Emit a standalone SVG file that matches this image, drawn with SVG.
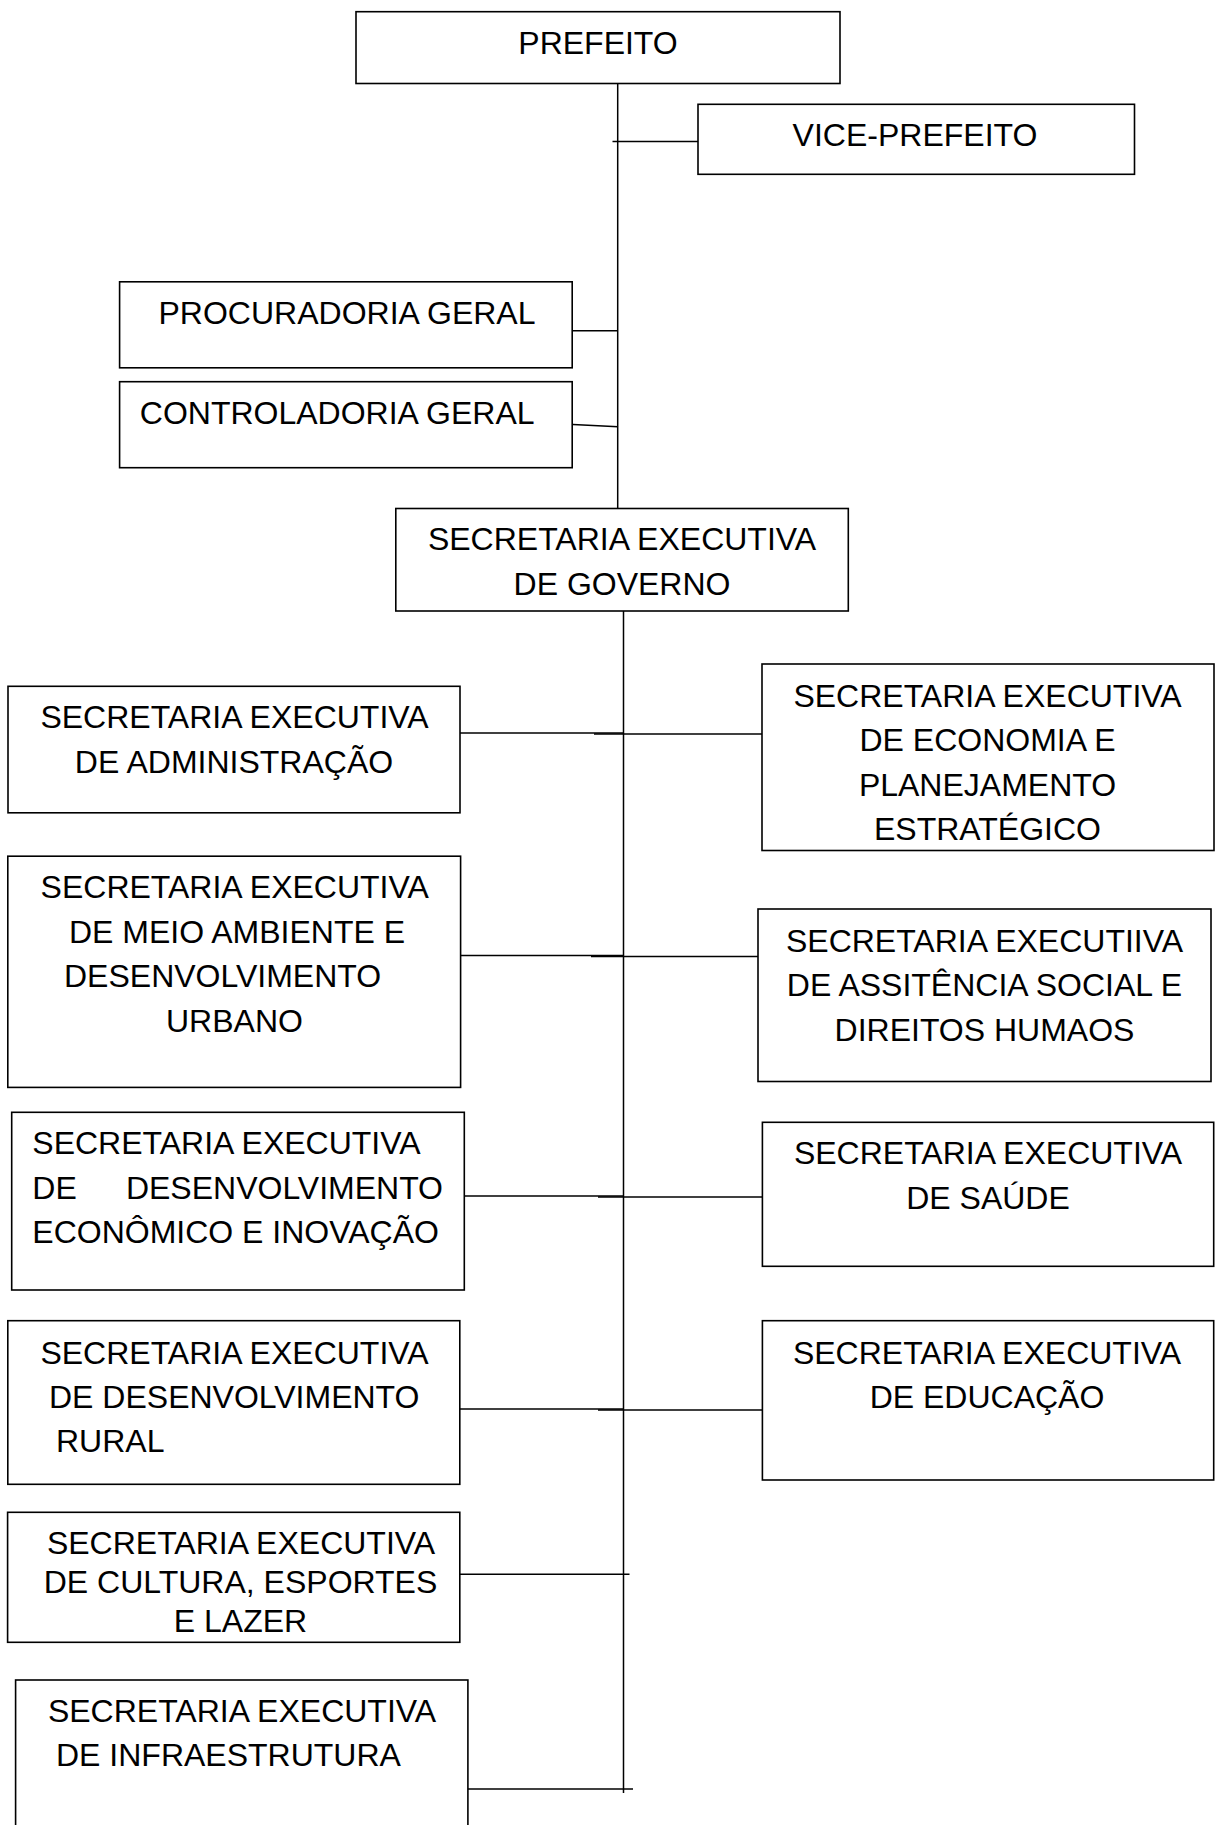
<svg xmlns="http://www.w3.org/2000/svg" width="1217" height="1825" viewBox="0 0 1217 1825">
<style>
.box{fill:#fff;stroke:#000;stroke-width:1.6}
.t{font-family:"Liberation Sans",Arial,sans-serif;font-size:32px;fill:#000}
.m{text-anchor:middle}
.ln{stroke:#000;stroke-width:1.5;fill:none}
</style>
<rect width="1217" height="1825" fill="#fff"/>
<g id="connectors">
<line class="ln" x1="617.7" y1="80" x2="617.7" y2="510"/>
<line class="ln" x1="612.5" y1="141.5" x2="698" y2="141.5"/>
<line class="ln" x1="568" y1="330.7" x2="618" y2="330.7"/>
<line class="ln" x1="568" y1="424.3" x2="618" y2="426.7"/>
<line class="ln" x1="623.5" y1="610" x2="623.5" y2="1793"/>
<line class="ln" x1="455" y1="733" x2="623.5" y2="733"/>
<line class="ln" x1="594" y1="734" x2="762" y2="734"/>
<line class="ln" x1="457" y1="955.5" x2="623.5" y2="955.5"/>
<line class="ln" x1="591" y1="956.5" x2="759" y2="956.5"/>
<line class="ln" x1="461" y1="1196" x2="623.5" y2="1196"/>
<line class="ln" x1="598" y1="1197" x2="764.5" y2="1197"/>
<line class="ln" x1="460" y1="1409" x2="623.5" y2="1409"/>
<line class="ln" x1="598" y1="1410" x2="764.5" y2="1410"/>
<line class="ln" x1="460" y1="1574.3" x2="629.5" y2="1574.3"/>
<line class="ln" x1="464.3" y1="1789" x2="633" y2="1789"/>
</g>
<g id="prefeito">
<rect class="box" x="356" y="11.7" width="484" height="71.8"/>
<text class="t m" x="598" y="54">PREFEITO</text>
</g>
<g id="vice-prefeito">
<rect class="box" x="698" y="104.3" width="436.5" height="70"/>
<text class="t m" x="915" y="146">VICE-PREFEITO</text>
</g>
<g id="procuradoria">
<rect class="box" x="119.6" y="281.8" width="452.6" height="86"/>
<text class="t" x="158.5" y="324">PROCURADORIA GERAL</text>
</g>
<g id="controladoria">
<rect class="box" x="119.6" y="381.7" width="452.6" height="86"/>
<text class="t" x="139.8" y="423.5">CONTROLADORIA GERAL</text>
</g>
<g id="governo">
<rect class="box" x="395.8" y="508.5" width="452.5" height="102.5"/>
<text class="t m" x="622" y="550">SECRETARIA EXECUTIVA</text>
<text class="t m" x="622" y="594.5">DE GOVERNO</text>
</g>
<g id="administracao">
<rect class="box" x="8" y="686.3" width="452" height="126.5"/>
<text class="t m" x="234.5" y="728">SECRETARIA EXECUTIVA</text>
<text class="t m" x="234" y="772.5">DE ADMINISTRAÇÃO</text>
</g>
<g id="economia">
<rect class="box" x="762" y="664" width="452" height="186.5"/>
<text class="t m" x="987.5" y="706.5">SECRETARIA EXECUTIVA</text>
<text class="t m" x="987.5" y="751">DE ECONOMIA E</text>
<text class="t m" x="987.5" y="795.5">PLANEJAMENTO</text>
<text class="t m" x="987.5" y="840">ESTRATÉGICO</text>
</g>
<g id="meio-ambiente">
<rect class="box" x="7.8" y="856.2" width="452.8" height="231.2"/>
<text class="t m" x="234.7" y="898.3">SECRETARIA EXECUTIVA</text>
<text class="t m" x="237" y="942.7">DE MEIO AMBIENTE E</text>
<text class="t" x="64" y="987">DESENVOLVIMENTO</text>
<text class="t" x="166" y="1031.5">URBANO</text>
</g>
<g id="assistencia">
<rect class="box" x="758" y="909" width="453" height="172.5"/>
<text class="t m" x="984.5" y="951.5">SECRETARIA EXECUTIIVA</text>
<text class="t m" x="984.5" y="996">DE ASSITÊNCIA SOCIAL E</text>
<text class="t m" x="984.5" y="1040.5">DIREITOS HUMAOS</text>
</g>
<g id="desenvolvimento-economico">
<rect class="box" x="11.7" y="1112.3" width="452.6" height="177.7"/>
<text class="t" x="32.3" y="1154.3">SECRETARIA EXECUTIVA</text>
<text class="t" y="1198.5"><tspan x="32.3">DE</tspan><tspan x="443" text-anchor="end">DESENVOLVIMENTO</tspan></text>
<text class="t" x="32.3" y="1242.5">ECONÔMICO E INOVAÇÃO</text>
</g>
<g id="saude">
<rect class="box" x="762.4" y="1122.3" width="451.3" height="144"/>
<text class="t m" x="988" y="1164">SECRETARIA EXECUTIVA</text>
<text class="t m" x="988" y="1208.5">DE SAÚDE</text>
</g>
<g id="desenvolvimento-rural">
<rect class="box" x="7.8" y="1320.7" width="452" height="163.6"/>
<text class="t m" x="234.5" y="1363.5">SECRETARIA EXECUTIVA</text>
<text class="t" x="49" y="1408">DE DESENVOLVIMENTO</text>
<text class="t" x="56" y="1452">RURAL</text>
</g>
<g id="educacao">
<rect class="box" x="762.4" y="1320.7" width="451.3" height="159.3"/>
<text class="t m" x="987" y="1363.5">SECRETARIA EXECUTIVA</text>
<text class="t m" x="987" y="1408">DE EDUCAÇÃO</text>
</g>
<g id="cultura">
<rect class="box" x="7.6" y="1512.3" width="452.2" height="130"/>
<text class="t m" x="241" y="1554.3">SECRETARIA EXECUTIVA</text>
<text class="t m" x="240.5" y="1593">DE CULTURA, ESPORTES</text>
<text class="t m" x="240.5" y="1632">E LAZER</text>
</g>
<g id="infraestrutura">
<rect class="box" x="15.6" y="1680" width="452.3" height="170"/>
<text class="t m" x="242" y="1721.5">SECRETARIA EXECUTIVA</text>
<text class="t" x="56" y="1766">DE INFRAESTRUTURA</text>
</g>
</svg>
